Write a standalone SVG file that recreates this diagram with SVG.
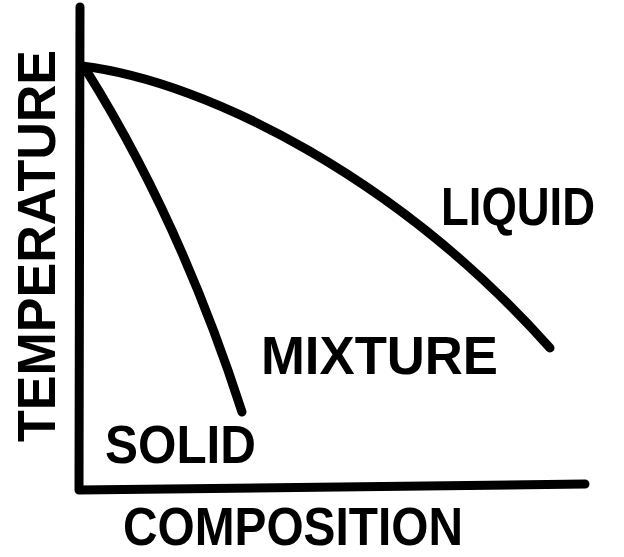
<svg xmlns="http://www.w3.org/2000/svg" width="624" height="557" viewBox="0 0 624 557">
<style>
.ln{fill:none;stroke:#000;stroke-width:9;stroke-linecap:round;stroke-linejoin:round}
.t{font-family:"Liberation Sans",Arial,sans-serif;font-size:54px;font-weight:bold;fill:#000}
</style>
<rect width="624" height="557" fill="#fff"/>
<g id="axes" class="ln">
<path d="M80,7 L79,490 L585,484"/>
</g>
<g id="connectors" class="ln">
<path id="liquidus" d="M82,66 C210,82 400,180 550,348"/>
<path id="solidus" d="M86,70 Q180,220 242,412"/>
</g>
<g id="labels">
<text class="t" x="441" y="225" textLength="154" lengthAdjust="spacingAndGlyphs">LIQUID</text>
<text class="t" x="261" y="374" textLength="237" lengthAdjust="spacingAndGlyphs">MIXTURE</text>
<text class="t" x="105" y="463" textLength="151" lengthAdjust="spacingAndGlyphs">SOLID</text>
<text class="t" x="123" y="545" textLength="340" lengthAdjust="spacingAndGlyphs">COMPOSITION</text>
<text class="t" transform="translate(55,442) rotate(-90)" x="0" y="0" textLength="392" lengthAdjust="spacingAndGlyphs">TEMPERATURE</text>
</g>
</svg>
